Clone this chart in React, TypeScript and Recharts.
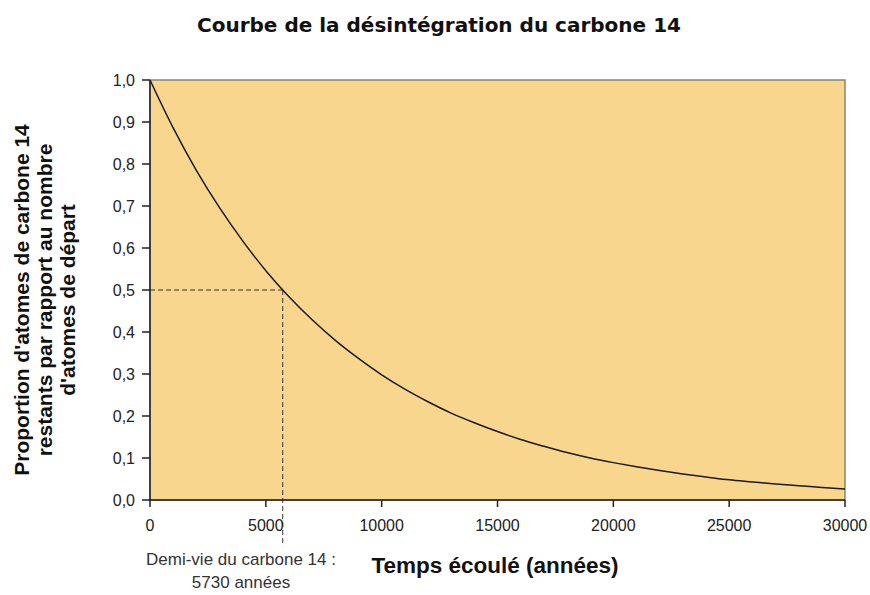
import {
  ComposedChart,
  Line,
  XAxis,
  YAxis,
  ReferenceArea,
  ReferenceLine,
} from "recharts";

const years = [
  0, 1000, 2000, 3000, 4000, 5000, 6000, 7000, 8000, 9000, 10000, 11000, 12000,
  13000, 14000, 15000, 16000, 17000, 18000, 19000, 20000, 21000, 22000, 23000,
  24000, 25000, 26000, 27000, 28000, 29000, 30000,
];
const proportion = [
  1.0, 0.886, 0.785, 0.696, 0.617, 0.546, 0.484, 0.429, 0.38, 0.337, 0.298,
  0.264, 0.234, 0.207, 0.184, 0.163, 0.144, 0.128, 0.113, 0.1, 0.089, 0.079,
  0.07, 0.062, 0.055, 0.048, 0.043, 0.038, 0.034, 0.03, 0.026,
];
const xTicks = [0, 5000, 10000, 15000, 20000, 25000, 30000];
const yTicks = [0, 0.1, 0.2, 0.3, 0.4, 0.5, 0.6, 0.7, 0.8, 0.9, 1.0];
const halfLife = 5730;
const halfValue = 0.5;
const yLabelLines = [
  "Proportion d'atomes de carbone 14",
  "restants par rapport au nombre",
  "d'atomes de départ",
];

const data = years.map((t, i) => ({ t, p: proportion[i] }));

const tickStyle = { fontFamily: "Liberation Sans, Arial", fontSize: 16, fill: "#222" };

const App = () => {
  return (
    <div style={{ position: "absolute", left: 0, top: 0, width: 870, height: 595, background: "#fff" }}>
      <ComposedChart
        width={870}
        height={595}
        data={data}
        margin={{ top: 80, right: 25, left: 100, bottom: 65 }}
      >
        <ReferenceArea
          x1={0}
          x2={30000}
          y1={0}
          y2={1}
          fill="#F9D68E"
          fillOpacity={1}
          stroke="#8c8470"
          strokeWidth={1.5}
        />
        <XAxis
          dataKey="t"
          type="number"
          domain={[0, 30000]}
          ticks={xTicks}
          height={30}
          tickSize={7}
          tickMargin={13}
          tick={tickStyle}
          stroke="#222"
          strokeWidth={1.5}
          interval={0}
        />
        <YAxis
          type="number"
          domain={[0, 1]}
          ticks={yTicks}
          width={50}
          tickSize={8}
          tickMargin={7}
          tick={tickStyle}
          tickFormatter={(v: number) => v.toFixed(1).replace(".", ",")}
          stroke="#222"
          strokeWidth={1.5}
          interval={0}
        />
        <ReferenceLine
          segment={[
            { x: 0, y: halfValue },
            { x: halfLife, y: halfValue },
          ]}
          stroke="#333"
          strokeDasharray="5 3"
        />
        <ReferenceLine
          segment={[
            { x: halfLife, y: halfValue },
            { x: halfLife, y: -0.11 },
          ]}
          ifOverflow="visible"
          stroke="#333"
          strokeDasharray="5 3"
        />
        <Line
          dataKey="p"
          type="monotone"
          stroke="#1a1a1a"
          strokeWidth={1.5}
          dot={false}
          isAnimationActive={false}
        />
      </ComposedChart>
      <svg
        width={870}
        height={595}
        style={{ position: "absolute", left: 0, top: 0, pointerEvents: "none" }}
      >
        <text
          x={439}
          y={32}
          textAnchor="middle"
          fontFamily="DejaVu Sans"
          fontWeight="bold"
          fontSize={20}
          fill="#111"
        >
          Courbe de la désintégration du carbone 14
        </text>
        <text
          x={241}
          y={565}
          textAnchor="middle"
          fontFamily="Liberation Sans, Arial"
          fontSize={17}
          fill="#333"
        >
          Demi-vie du carbone 14 :
        </text>
        <text
          x={241}
          y={588}
          textAnchor="middle"
          fontFamily="Liberation Sans, Arial"
          fontSize={17}
          fill="#333"
        >
          {halfLife} années
        </text>
        <text
          x={495}
          y={573}
          textAnchor="middle"
          fontFamily="Liberation Sans, Arial"
          fontWeight="bold"
          fontSize={22.5}
          fill="#111"
        >
          Temps écoulé (années)
        </text>
        {yLabelLines.map((line, i) => (
          <text
            key={line}
            x={0}
            y={0}
            transform={`translate(${29 + i * 23}, 300) rotate(-90)`}
            textAnchor="middle"
            fontFamily="Liberation Sans, Arial"
            fontWeight="bold"
            fontSize={21}
            fill="#111"
          >
            {line}
          </text>
        ))}
      </svg>
    </div>
  );
};

export default App;
